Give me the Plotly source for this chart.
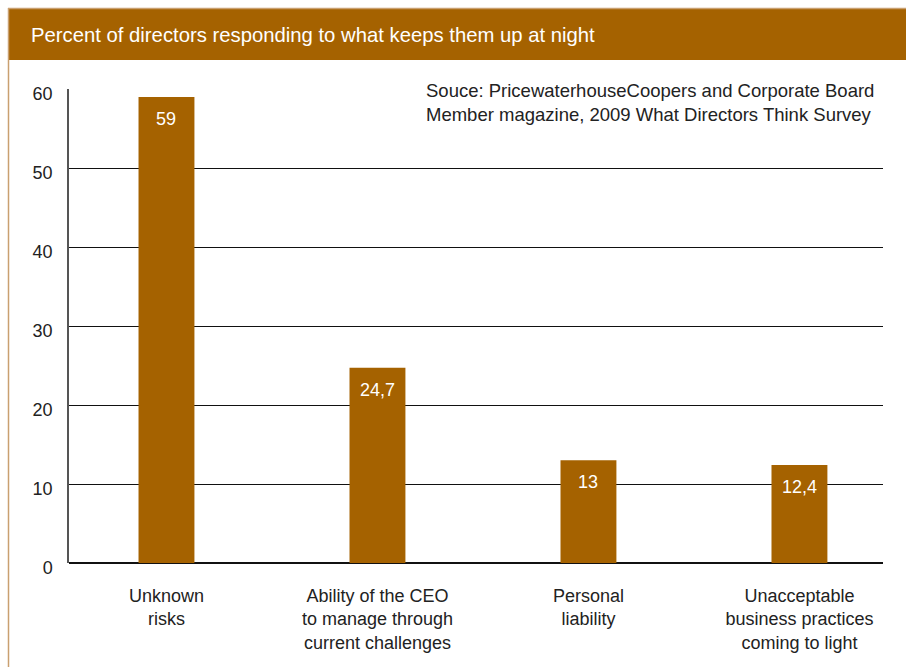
import plotly.graph_objects as go

# Survey results: share of directors naming each worry
categories = [
    "Unknown<br>risks",
    "Ability of the CEO<br>to manage through<br>current challenges",
    "Personal<br>liability",
    "Unacceptable<br>business practices<br>coming to light",
]
values = [59, 24.7, 13, 12.4]
y_ticks = [0, 10, 20, 30, 40, 50, 60]

BROWN = "#A56200"
TAN = "#C9A070"
TEXT = "#222222"
FONT = "Liberation Sans, Arial, Helvetica, sans-serif"

W, H = 906, 667
L, R, T, B = 69, 23, 89, 104
PW, PH = W - L - R, H - T - B


def px(x):
    return (x - L) / PW


def py(y):
    return (H - B - y) / PH


labels = [f"{v:g}".replace(".", ",") for v in values]
xpos = list(range(len(categories)))

fig = go.Figure(
    go.Bar(
        x=xpos,
        y=values,
        width=0.265,
        marker=dict(color=BROWN, line=dict(width=0)),
        hoverinfo="skip",
    )
)

# value labels sit just inside the top of each bar
value_notes = [
    dict(x=x, y=v, xref="x", yref="y", text=t, showarrow=False,
         xanchor="center", yanchor="top", yshift=-10,
         font=dict(color="white", size=18, family=FONT))
    for x, v, t in zip(xpos, values, labels)
]

fig.update_layout(
    width=W,
    height=H,
    margin=dict(l=L, r=R, t=T, b=B),
    paper_bgcolor="white",
    plot_bgcolor="white",
    showlegend=False,
    font=dict(family=FONT, size=18, color=TEXT),
    xaxis=dict(
        range=[-0.462, 3.396],
        tickvals=xpos,
        ticktext=categories,
        ticks="",
        showgrid=False,
        zeroline=False,
        showline=False,
        tickfont=dict(size=18, color=TEXT),
        ticklabelstandoff=20,
    ),
    yaxis=dict(
        range=[0, 60],
        tickvals=y_ticks,
        ticks="",
        showgrid=True,
        gridcolor="#111111",
        gridwidth=1,
        zeroline=True,
        zerolinecolor="#111111",
        zerolinewidth=1.5,
        showline=True,
        linecolor="#555555",
        linewidth=1.5,
        tickfont=dict(size=18, color=TEXT),
        ticklabelstandoff=11,
        ticklabelshift=5,
    ),
    shapes=[
        # header band
        dict(type="rect", xref="paper", yref="paper",
             x0=px(9), x1=px(906), y0=py(60), y1=py(9),
             fillcolor=BROWN, line=dict(width=0), layer="below"),
        # thin tan frame: top and left edges
        dict(type="line", xref="paper", yref="paper",
             x0=px(8), x1=px(906), y0=py(8.5), y1=py(8.5),
             line=dict(color=TAN, width=1.5)),
        dict(type="line", xref="paper", yref="paper",
             x0=px(8.5), x1=px(8.5), y0=py(8), y1=py(667),
             line=dict(color=TAN, width=1.5)),
    ],
    annotations=value_notes + [
        dict(xref="paper", yref="paper", x=px(29), y=py(35),
             xanchor="left", yanchor="middle", showarrow=False,
             text="Percent of directors responding to what keeps them up at night",
             font=dict(color="white", size=20.3, family=FONT)),
        dict(xref="paper", yref="paper", x=px(424), y=py(78),
             xanchor="left", yanchor="top", showarrow=False, align="left",
             text="Souce: PricewaterhouseCoopers and Corporate Board<br>"
                  "Member magazine, 2009 What Directors Think Survey",
             font=dict(color=TEXT, size=18.5, family=FONT)),
    ],
)

fig.write_html("out.html")
